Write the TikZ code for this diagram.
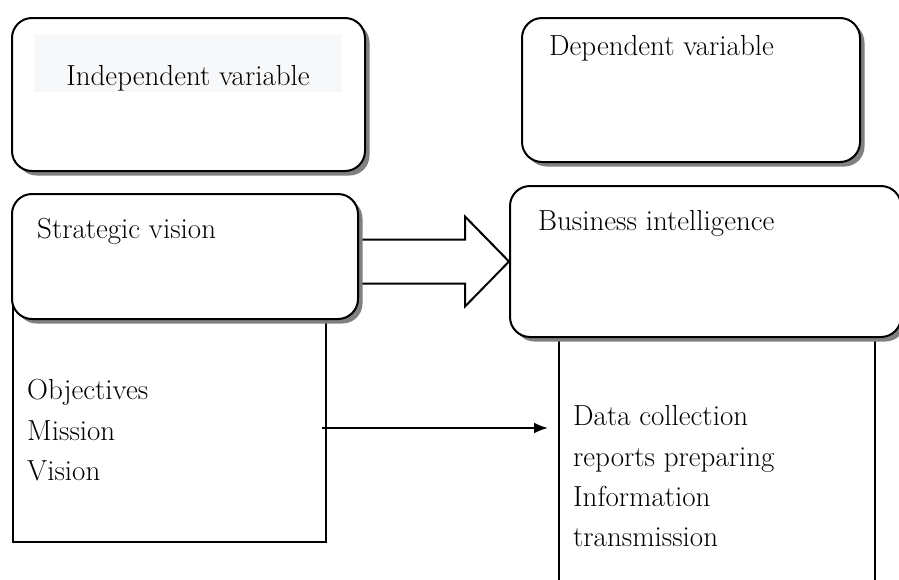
\documentclass[tikz,border=0pt]{standalone}
\usepackage{tikz}
\usetikzlibrary{arrows.meta,positioning,shapes,shadows,calc}
\definecolor{hilite}{RGB}{247,248,250}

\begin{document}
\begin{tikzpicture}[x=1pt,y=-1pt,>={Latex[length=14pt,width=11pt]},
	var box/.style={rectangle,rounded corners=20pt,draw,line width=2pt,fill=white,
		drop shadow={shadow xshift=4.5pt,shadow yshift=-4.5pt,fill=gray,opacity=1},
		anchor=north west,inner sep=0pt},
	list box/.style={rectangle,draw,line width=2pt,fill=white,anchor=north west,inner sep=0pt},
	label/.style={font=\fontsize{29}{33}\selectfont,inner sep=0pt,anchor=base west}]

    \clip (0,0) rectangle (899,579);
    \useasboundingbox (0,0) rectangle (899,579);

    % lists sit behind the rounded boxes
    \node[list box,minimum width=313pt,minimum height=241pt] (SL) at (12,300) {};
    \node[list box,minimum width=316pt,minimum height=270pt] (BL) at (558,320) {};

    \node[var box,minimum width=353pt,minimum height=153pt] (IV) at (11,17) {};
    \node[var box,minimum width=338pt,minimum height=144pt] (DV) at (521,17) {};
    \node[var box,minimum width=391pt,minimum height=151pt] (BI) at (509,185) {};

    % block arrow, its tail hidden under the strategic vision box
    \draw[line width=2pt,fill=white] (BI.west) -- ++(-44,-45) -- ++(0,23) -- ++(-120,0)
	    -- ++(0,44) -- ++(120,0) -- ++(0,23) -- cycle;

    \node[var box,minimum width=346pt,minimum height=125pt] (SV) at (11,193) {};

    \fill[hilite] (34,35) rectangle (342,92);
    \node[label,anchor=base] (IVt) at (188,85) {Independent variable};
    \node[label] (DVt) at (549,55) {Dependent variable};
    \node[label] (SVt) at (37,238) {Strategic vision};
    \node[label] (BIt) at (538,230) {Business intelligence};

    \node[label] (obj) at (27,399) {Objectives};
    \node[label] (mis) at (27,440) {Mission};
    \node[label] (vis) at (27,480) {Vision};

    \node[label] (dat) at (573,425) {Data collection};
    \node[label] (rep) at (573,466) {reports preparing};
    \node[label] (inf) at (573,506) {Information};
    \node[label] (tra) at (573,546) {transmission};

    \coordinate (from) at (322,428);
    \draw[->,line width=2pt,shorten >=10pt] (from) -- (from -| BL.west);

\end{tikzpicture}
\end{document}
